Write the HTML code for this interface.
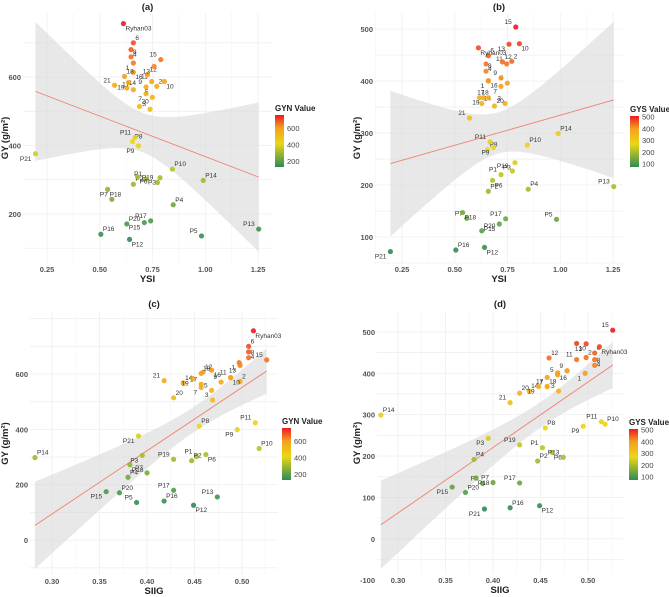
<!DOCTYPE html>
<html><head><meta charset="utf-8"><style>
body{margin:0;background:#fff}
svg{display:block;font-family:"Liberation Sans",sans-serif}
</style></head><body>
<svg id="chart" width="669" height="597" viewBox="0 0 669 597"></svg>
<script>
const genotypes=['1','2','3','4','5','6','7','8','9','10','11','12','13','14','15','16','17','18','19','20','21','Ryhan03','P1','P2','P3','P4','P5','P6','P7','P8','P9','P10','P11','P12','P13','P14','P15','P16','P17','P18','P19','P20','P21'];
const ysiValues=[0.659,0.770,0.738,0.648,0.749,0.659,0.719,0.648,0.719,0.806,0.746,0.726,0.757,0.628,0.789,0.659,0.659,0.617,0.636,0.688,0.570,0.612,0.719,0.659,0.785,0.848,0.982,0.679,0.557,0.655,0.683,0.844,0.667,0.641,1.253,0.990,0.711,0.505,0.741,0.537,0.773,0.628,0.195];
const siigValues=[0.497,0.498,0.469,0.507,0.468,0.507,0.457,0.507,0.478,0.488,0.488,0.459,0.498,0.438,0.526,0.468,0.457,0.457,0.448,0.428,0.418,0.512,0.452,0.447,0.395,0.380,0.389,0.462,0.400,0.455,0.495,0.518,0.514,0.449,0.474,0.282,0.357,0.418,0.428,0.382,0.428,0.371,0.391];
const gynValues=[641,573,506,680,541,700,551,659,571,587,587,607,631,568,651,614,563,602,584,514,576,756,302,287,306,227,136,309,243,412,399,331,424,126,156,298,175,141,180,272,292,171,376];
const gysValues=[400,438,357,433,396,449,390,419,406,472,433,437,471,357,504,401,368,368,368,352,329,464,220,188,243,192,134,209,136,268,272,277,283,80,197,299,125,75,135,147,227,112,72];
const xTicksYSI=[0.25,0.50,0.75,1.00,1.25];
const xTicksSIIG=[0.30,0.35,0.40,0.45,0.50];
const yTicksA=[200,400,600];
const yTicksB=[100,200,300,400,500];
const yTicksC=[0,200,400,600];
const yTicksD=[-100,0,100,200,300,400,500];
const cbTicksGYN=[200,400,600];
const cbTicksGYS=[100,200,300,400,500];

const NS='http://www.w3.org/2000/svg';
const svg=document.getElementById('chart');
function mk(tag,attrs,parent){const e=document.createElementNS(NS,tag);for(const k in attrs)e.setAttribute(k,attrs[k]);(parent||svg).appendChild(e);return e;}
function lerp(a,b,t){return a+(b-a)*t;}
const stops=[[0,[46,139,87]],[0.45,[235,215,20]],[0.75,[245,160,30]],[1,[235,25,35]]];
function cmap(t){t=Math.max(0,Math.min(1,t));for(let i=1;i<stops.length;i++){if(t<=stops[i][0]){const a=stops[i-1],b=stops[i];const u=(t-a[0])/(b[0]-a[0]);const c=a[1].map((v,j)=>Math.round(lerp(v,b[1][j],u)));return 'rgb('+c.join(',')+')';}}return 'rgb(235,25,35)';}

function panel(cfg){
  const g=mk('g',{});
  
  
  const {x0,x1,y0,y1,xd,yd}=cfg;
  const sx=v=>x0+(v-xd[0])/(xd[1]-xd[0])*(x1-x0);
  const sy=v=>y1-(v-yd[0])/(yd[1]-yd[0])*(y1-y0);
  // grid
  const xs=cfg.xTicks, ys=cfg.yTicks;
  const xstep=xs[1]-xs[0], ystep=ys[1]-ys[0];
  for(let v=xs[0]-xstep;v<=xs[xs.length-1]+xstep;v+=xstep/2){const px=sx(v);if(px<x0||px>x1)continue;const l=mk('line',{x1:px,x2:px,y1:y0,y2:y1,stroke:'#efefef','stroke-width':Math.abs(((v-xs[0])/xstep)%1)<0.01||Math.abs(((v-xs[0])/xstep)%1)>0.99?0.8:0.4},g);}
  for(let v=ys[0]-ystep;v<=ys[ys.length-1]+ystep;v+=ystep/2){const py=sy(v);if(py<y0||py>y1)continue;const l=mk('line',{x1:x0,x2:x1,y1:py,y2:py,stroke:'#efefef','stroke-width':0.8},g);}
  // regression
  const X=cfg.xv,Y=cfg.yv,n=X.length;
  const mx=X.reduce((a,b)=>a+b)/n,my=Y.reduce((a,b)=>a+b)/n;
  let sxx=0,sxy=0;for(let i=0;i<n;i++){sxx+=(X[i]-mx)**2;sxy+=(X[i]-mx)*(Y[i]-my);}
  const b=sxy/sxx,a=my-b*mx;let sse=0;for(let i=0;i<n;i++)sse+=(Y[i]-a-b*X[i])**2;
  const s=Math.sqrt(sse/(n-2)),t=2.02;
  const xmin=Math.min(...X),xmax=Math.max(...X);
  let up=[],lo=[];
  for(let k=0;k<=60;k++){const xv=xmin+(xmax-xmin)*k/60;const f=a+b*xv;const se=s*Math.sqrt(1/n+(xv-mx)**2/sxx);up.push(sx(xv)+','+sy(f+t*se));lo.unshift(sx(xv)+','+sy(f-t*se));}
  const band=mk('polygon',{points:up.concat(lo).join(' '),fill:'#d9d9d9','fill-opacity':0.6},g);
  
  const rl=mk('line',{x1:sx(xmin),y1:sy(a+b*xmin),x2:sx(xmax),y2:sy(a+b*xmax),stroke:'#f08070','stroke-width':0.9},g);
  
  // points
  const cmin=Math.min(...Y),cmax=Math.max(...Y);
  for(let i=0;i<n;i++){
    const c=mk('circle',{cx:sx(X[i]),cy:sy(Y[i]),r:2.6,fill:cmap((Y[i]-cmin)/(cmax-cmin)),'fill-opacity':0.9},g);
    
    const tx=mk('text',{x:sx(X[i])+(i%2?2:-4),y:sy(Y[i])+(i%3===0?7:-3),'font-size':6.5,fill:'#333',"text-anchor":i%2?'start':'end'},g);
    tx.textContent=genotypes[i];
  }
  // ticks
  xs.forEach(v=>{const e=mk('text',{x:sx(v),y:y1+9,'font-size':7.5,'font-weight':'bold',fill:'#555','text-anchor':'middle'},g);e.textContent=v.toFixed(2);});
  ys.forEach(v=>{const e=mk('text',{x:x0-2,y:sy(v)+3,'font-size':7.5,'font-weight':'bold',fill:'#555','text-anchor':'end'},g);e.textContent=v;});
  let e=mk('text',{x:(x0+x1)/2,y:y1+19,'font-size':9.5,'font-weight':'bold',fill:'#222','text-anchor':'middle'},g);e.textContent=cfg.xTitle;
  e=mk('text',{x:0,y:0,'font-size':9.5,'font-weight':'bold',fill:'#222','text-anchor':'middle',transform:`translate(${cfg.ytx},${(y0+y1)/2}) rotate(-90)`},g);e.textContent='GY (g/m²)';
  e=mk('text',{x:(x0+x1)/2,y:cfg.titleY,'font-size':9.5,'font-weight':'bold',fill:'#222','text-anchor':'middle'},g);e.textContent=cfg.title;
  // colorbar
  const cb=cfg.cb;const gid='grad'+cfg.title.replace(/\W/g,'');
  const defs=mk('defs',{},g);const lg=mk('linearGradient',{id:gid,x1:0,y1:1,x2:0,y2:0},defs);
  stops.forEach(s=>mk('stop',{offset:s[0],'stop-color':'rgb('+s[1].join(',')+')'},lg));
  const r=mk('rect',{x:cb.x,y:cb.y0,width:9,height:cb.y1-cb.y0,fill:`url(#${gid})`},g);
  const cy=v=>cb.y1-(v-cmin)/(cmax-cmin)*(cb.y1-cb.y0);
  cb.ticks.forEach(v=>{const t=mk('text',{x:cb.x+12,y:cy(v)+3,'font-size':7.5,fill:'#444'},g);t.textContent=v;});
  e=mk('text',{x:cb.x,y:cb.y0-4,'font-size':8,'font-weight':'bold',fill:'#222'},g);e.textContent=cb.title;
}
panel({name:'panel-a',title:'(a)',titleY:10,x0:23,x1:272,y0:13,y1:263,xd:[0.136,1.316],yd:[57,787],xv:ysiValues,yv:gynValues,xTicks:xTicksYSI,yTicks:yTicksA,xTitle:'YSI',ytx:8,cb:{x:275,y0:115,y1:167,ticks:cbTicksGYN,title:'GYN Value'}});
panel({name:'panel-b',title:'(b)',titleY:10,x0:375,x1:623,y0:13,y1:263,xd:[0.122,1.297],yd:[50,531],xv:ysiValues,yv:gysValues,xTicks:xTicksYSI,yTicks:yTicksB,xTitle:'YSI',ytx:360,cb:{x:630,y0:116,y1:167,ticks:cbTicksGYS,title:'GYS Value'}});
panel({name:'panel-c',title:'(c)',titleY:307,x0:30,x1:278,y0:312,y1:575,xd:[0.2768,0.5379],yd:[-126,824],xv:siigValues,yv:gynValues,xTicks:xTicksSIIG,yTicks:yTicksC,xTitle:'SIIG',ytx:8,cb:{x:282,y0:428,y1:480,ticks:cbTicksGYN,title:'GYN Value'}});
panel({name:'panel-d',title:'(d)',titleY:307,x0:377,x1:623,y0:312,y1:574,xd:[0.2779,0.5368],yd:[-85,548],xv:siigValues,yv:gysValues,xTicks:xTicksSIIG,yTicks:yTicksD,xTitle:'SIIG',ytx:360,cb:{x:629,y0:429,y1:480,ticks:cbTicksGYS,title:'GYS Value'}});
</script>
</body></html>
